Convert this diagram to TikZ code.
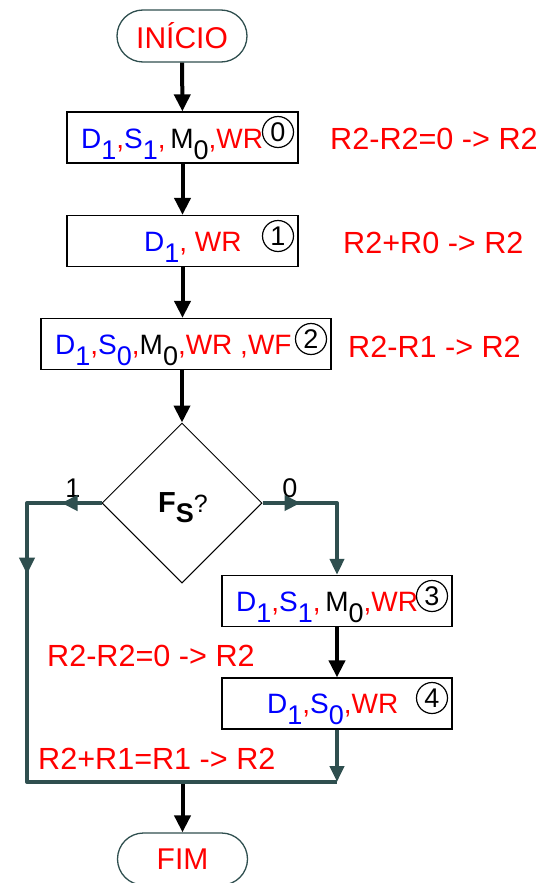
\documentclass[tikz,border=0pt]{standalone}
\usepackage{fontspec}
\setmainfont{Liberation Sans}
\usetikzlibrary{arrows.meta,shapes.geometric,decorations.markings}
\definecolor{slate}{RGB}{47,79,79}
\definecolor{myblue}{RGB}{0,0,255}
\definecolor{myred}{RGB}{255,0,0}
\newcommand\sbx[1]{\raisebox{-11pt}{\fontsize{27}{27}\selectfont #1}}
\newcommand\Bl[1]{\textcolor{myblue}{#1}}
\newcommand\Rd[1]{\textcolor{myred}{#1}}
\begin{document}
\begin{tikzpicture}[x=1pt,y=-1pt,
  term/.style={draw=slate, line width=1.3pt, rounded corners=26pt, minimum width=130pt, minimum height=52pt, text=myred, font=\fontsize{30}{30}\selectfont, inner sep=0pt},
  stepbox/.style={draw, line width=1.3pt, inner sep=0pt, minimum height=51pt},
  txt/.style={anchor=base west, inner sep=0pt, font=\fontsize{28}{28}\selectfont},
  eq/.style={anchor=base west, inner sep=0pt, text=myred, font=\fontsize{30.6}{30.6}\selectfont},
  num/.style={draw, circle, line width=1.2pt, minimum size=31pt, inner sep=0pt, font=\fontsize{27}{27}\selectfont},
  flow/.style={line width=4pt, -{Triangle[width=16pt,length=17pt]}},
  branch/.style={line width=4pt, draw=slate, line join=round},
  sarrow/.style={-{Triangle[width=14pt,length=16pt]}, slate},
  blabel/.style={anchor=base, inner sep=0pt, font=\fontsize{27}{27}\selectfont},
]
\useasboundingbox (0,0) rectangle (541,883);

% terminals
\node[term] (ini) at (182,36) {INÍCIO};
\node[term] (fim) at (182.5,859) {FIM};

% step boxes
\node[stepbox, minimum width=231pt] (b0) at (182.5,137.5) {};
\node[stepbox, minimum width=231pt] (b1) at (182.5,241) {};
\node[stepbox, minimum width=290pt] (b2) at (186,344) {};
\node[stepbox, minimum width=230pt] (b3) at (337,601) {};
\node[stepbox, minimum width=230pt] (b4) at (337,703.5) {};

% box texts
\node[txt] (t0) at (81,148) {\Bl{D\sbx{1}}\Rd{,}\Bl{S\sbx{1}}\Rd{,}\,M\sbx{0}\Rd{,WR}};
\node[txt] (t1) at (144,251) {\Bl{D\sbx{1}}\Rd{, WR}};
\node[txt] (t2) at (55,354) {\Bl{D\sbx{1}}\Rd{,}\Bl{S\sbx{0}}\Rd{,}M\sbx{0}\Rd{,WR ,WF}};
\node[txt] (t3) at (236,611) {\Bl{D\sbx{1}}\Rd{,}\Bl{S\sbx{1}}\Rd{,}\,M\sbx{0}\Rd{,WR}};
\node[txt] (t4) at (267,713.5) {\Bl{D\sbx{1}}\Rd{,}\Bl{S\sbx{0}}\Rd{,WR}};

% circled numbers
\node[num] (c0) at (278,132) {0};
\node[num] (c1) at (278,236) {1};
\node[num] (c2) at (311,339) {2};
\node[num] (c3) at (432,596) {3};
\node[num] (c4) at (432,698) {4};

% right-side operations
\node[eq] (e0) at (330,149) {R2-R2=0 -> R2};
\node[eq] (e1) at (343,253) {R2+R0 -> R2};
\node[eq] (e2) at (348,357) {R2-R1 -> R2};
\node[eq] (e3) at (47,666) {R2-R2=0 -> R2};
\node[eq] (e4) at (38,769) {R2+R1=R1 -> R2};

% decision
\node[draw, diamond, line width=1pt, minimum width=160pt, minimum height=160pt, inner sep=0pt] (d) at (182,503) {};
\node[anchor=base west, inner sep=0pt] (fs) at (158,512) {\fontsize{29}{29}\selectfont\bfseries F\raisebox{-10pt}{\fontsize{27}{27}\selectfont S}\mdseries\fontsize{25}{25}\selectfont ?};
\node[blabel] (l1) at (73,497) {1};
\node[blabel] (l0) at (290,497) {0};

% coordinates for branches
\coordinate (L1) at (27,503);
\coordinate (L2) at (27,782);
\coordinate (R1) at (b3.north |- d.east);
\coordinate (R2) at (b3.north |- L2);
\coordinate (M) at (182.5,782);

% main flow arrows
\draw[flow] (ini) -- (b0);
\draw[flow] (b0) -- (b1);
\draw[flow] (b1) -- (b2.north -| b1.south);
\draw[flow] (b2.south -| d.north) -- (d.north);
\draw[flow] (b3) -- (b4);
\draw[flow] (M) -- (fim);

% branches
\draw[branch, postaction={decorate}, decoration={markings,
   mark=at position 40pt with {\arrow[slate]{Triangle[width=15pt,length=16pt]}},
   mark=at position 146pt with {\arrow[slate]{Triangle[width=15pt,length=17pt]}}}]
  (d.west) -- (L1) -- (L2) -- (R2);
\draw[branch, sarrow, postaction={decorate}, decoration={markings,
   mark=at position 38pt with {\arrow[slate]{Triangle[width=15pt,length=16pt]}}}]
  (d.east) -- (R1) -- (b3.north);
\draw[branch, sarrow] (b4.south) -- (R2);
\end{tikzpicture}
\end{document}
